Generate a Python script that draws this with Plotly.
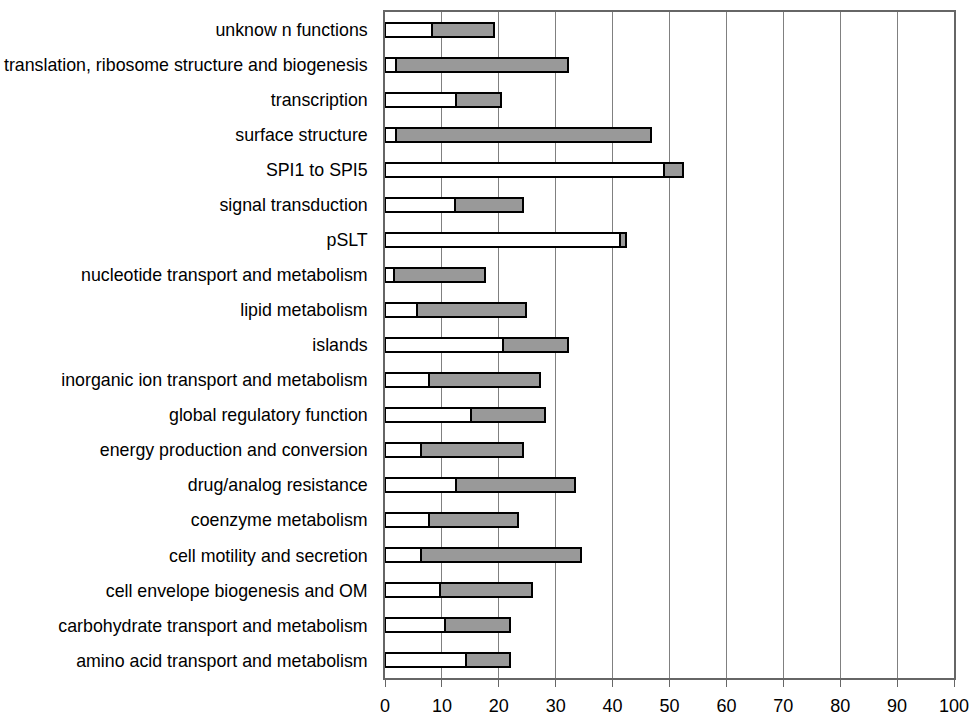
import plotly.graph_objects as go

categories = [
    "amino acid transport and metabolism",
    "carbohydrate transport and metabolism",
    "cell envelope biogenesis and OM",
    "cell motility and secretion",
    "coenzyme metabolism",
    "drug/analog resistance",
    "energy production and conversion",
    "global regulatory function",
    "inorganic ion transport and metabolism",
    "islands",
    "lipid metabolism",
    "nucleotide transport and metabolism",
    "pSLT",
    "signal transduction",
    "SPI1 to SPI5",
    "surface structure",
    "transcription",
    "translation, ribosome structure and biogenesis",
    "unknow n functions",
]

white_values = [14.2, 10.6, 9.6, 6.4, 7.7, 12.5, 6.3, 15.1, 7.7, 20.7, 5.7, 1.5, 41.3, 12.3, 49.0, 1.9, 12.5, 1.9, 8.2]
grey_values = [7.8, 11.4, 16.3, 28.1, 15.7, 20.9, 17.9, 13.1, 19.6, 11.5, 19.0, 16.0, 1.1, 11.9, 3.4, 44.9, 7.8, 30.3, 10.9]

x_ticks = [0, 10, 20, 30, 40, 50, 60, 70, 80, 90, 100]

fig = go.Figure()
fig.add_trace(go.Bar(
    y=categories, x=white_values, orientation="h", name="white",
    marker=dict(color="#ffffff", line=dict(color="#000000", width=2)),
))
fig.add_trace(go.Bar(
    y=categories, x=grey_values, orientation="h", name="grey",
    marker=dict(color="#999999", line=dict(color="#000000", width=2)),
))

fig.update_layout(
    barmode="stack",
    bargap=0.6,
    width=972, height=717,
    margin=dict(l=385, r=18, t=12, b=39, autoexpand=False),
    paper_bgcolor="white", plot_bgcolor="white",
    showlegend=False,
    font=dict(family="Liberation Sans, Arial, sans-serif", color="#000000"),
)
fig.update_xaxes(
    range=[0, 100], tickvals=x_ticks, ticktext=[str(v) for v in x_ticks],
    showgrid=True, gridcolor="#808080", gridwidth=1,
    showline=True, linecolor="#666666", linewidth=1.5, mirror=True,
    ticks="outside", ticklen=7, tickcolor="#666666",
    tickfont=dict(size=18), zeroline=False, automargin=False,
    ticklabelstandoff=4,
)
fig.update_yaxes(
    type="category", categoryorder="array", categoryarray=categories,
    showgrid=False, showline=True, linecolor="#666666", linewidth=1.5, mirror=True,
    ticks="", ticklabelstandoff=12, tickfont=dict(size=17.8), automargin=False,
)

fig.write_html("out.html")
